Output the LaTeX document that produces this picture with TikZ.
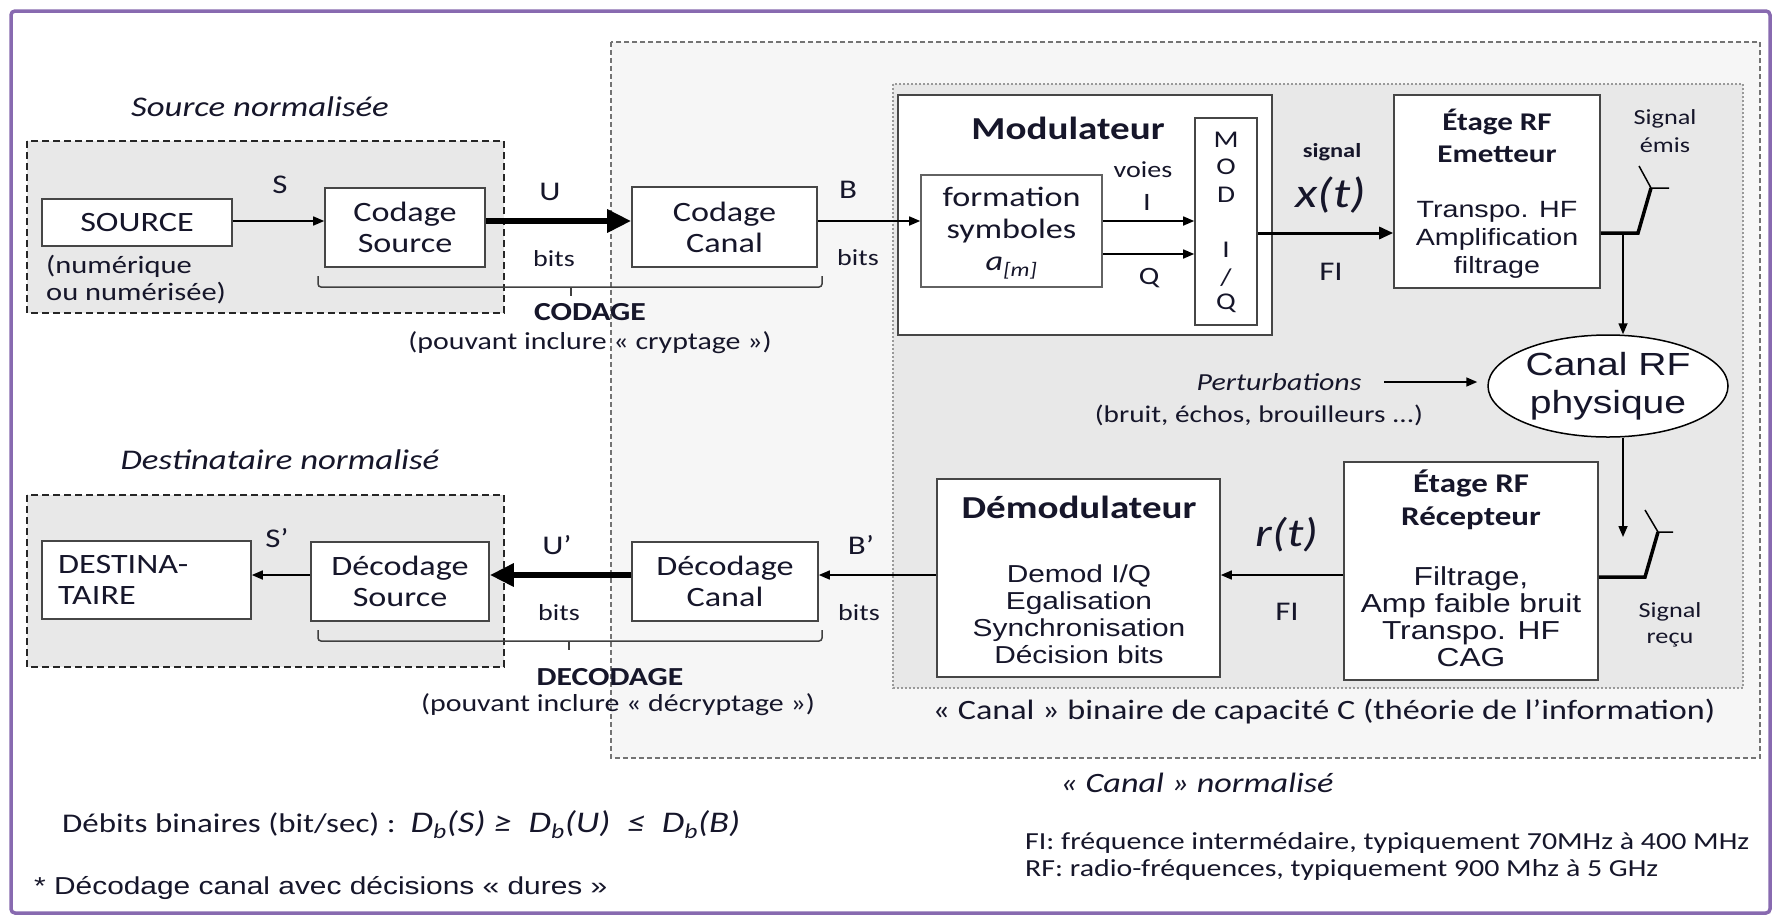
\documentclass[tikz,border=0pt]{standalone}
\usepackage{fontspec}
\setmainfont[FakeStretch=1.22]{Carlito}
\newfontfamily\arialf[FakeStretch=1.22]{Liberation Sans}
\usetikzlibrary{arrows.meta,shapes.geometric}
\definecolor{txt}{RGB}{22,22,42}
\definecolor{framec}{RGB}{136,106,176}
\definecolor{bigfill}{RGB}{246,246,246}
\definecolor{grayfill}{RGB}{232,232,232}
\definecolor{bord}{RGB}{70,70,70}
\newcommand\fsz[2]{\fontsize{#1}{#2}\selectfont}
\begin{document}
\begin{tikzpicture}[x=1pt,y=-1pt,
  every node/.style={text=txt, inner sep=0pt},
  box/.style={draw=bord, line width=1.6pt, fill=white, inner sep=0pt, align=center},
  lbl/.style={font=\fsz{27}{30}},
  bitsl/.style={font=\fsz{23}{26}},
  arr/.style={draw=black, line width=1.6pt, -{Triangle[length=11pt,width=9pt]}},
  midarr/.style={draw=black, line width=3pt, -{Triangle[length=14pt,width=12pt]}},
  fatarr/.style={draw=black, line width=6pt, -{Triangle[length=24pt,width=22pt]}},
  srcbox/.style={draw=black!85, line width=1.6pt, dash pattern=on 7pt off 4pt, fill=grayfill},
  bigbox/.style={draw=black!55, line width=1.4pt, dash pattern=on 5pt off 3pt, fill=bigfill},
  dotbox/.style={draw=black!40, line width=1.2pt, dash pattern=on 2pt off 2pt, fill=grayfill},
  brc/.style={draw=black!75, line width=1.5pt, rounded corners=3pt},
  antthick/.style={draw=black, line width=3.5pt},
  antthin/.style={draw=black, line width=1.5pt}
]
\path[use as bounding box] (0,0) rectangle (1779,916);
\fill[white] (0,0) rectangle (1779,916);
\draw[framec, line width=3.5pt, rounded corners=4pt] (11,11) rectangle (1770,913);

% group boxes
\draw[bigbox] (611,42) rectangle (1760,758);
\draw[dotbox] (893,84) rectangle (1743,688);
\draw[srcbox] (27,141) rectangle (504,313);
\draw[srcbox] (27,495) rectangle (504,667);

\coordinate (rowt) at (0,221);
\coordinate (rowb) at (0,575);

% ---------- top row ----------
\node[font=\itshape\fsz{28.5}{30}] (srcnorm) at (260,107) {Source normalisée};
\node[box, minimum width=190pt, minimum height=47pt, font=\fsz{28}{31}] (source) at (137,222.5) {SOURCE};
\node[anchor=west, align=left, font=\fsz{25}{27}] (num) at (46,280) {(numérique\\ou numérisée)};
\node[box, minimum width=160pt, minimum height=79pt, font=\fsz{28}{31}] (codsrc) at (405,227.5) {Codage\\Source};
\node[lbl] (S) at (280,185) {S};
\node[lbl] (U) at (550,192) {U};
\node[bitsl] (bits1) at (554,259) {bits};
\node[box, minimum width=185pt, minimum height=80pt, font=\fsz{28}{31}] (codcan) at (724.5,227) {Codage\\Canal};
\node[lbl] (B) at (848,190) {B};
\node[bitsl] (bits2) at (858,258) {bits};

\draw[arr] (source.east |- rowt) -- (codsrc.west |- rowt);
\draw[fatarr] (codsrc.east |- rowt) -- (codcan.west |- rowt);

% brace CODAGE
\draw[brc] (318,276) -- (318,287) -- (822,287) -- (822,276);
\draw[brc] (571,287) -- (571,296);
\node[font=\bfseries\fsz{26}{30}] (codage) at (590,312) {CODAGE};
\node[font=\fsz{24.5}{27}] (codp) at (590,343) {(pouvant inclure «~cryptage~»)};

% modulateur
\node[box, minimum width=374pt, minimum height=240pt] (modbox) at (1085,215) {};
\node[font=\bfseries\fsz{32}{34}] (modt) at (1068,128) {Modulateur};
\node[box, draw=bord!85, minimum width=181pt, minimum height=112pt] (form) at (1011.5,231) {};
\node[font=\fsz{28}{32}, align=center] (formt) at (1011.5,233) {formation\\symboles\\{\itshape a\textsubscript{[m]}}};
\node[font=\fsz{23}{26}] (voies) at (1143,170) {voies};
\node[font=\fsz{25}{28}] (Il) at (1147,202) {I};
\node[font=\fsz{25}{28}] (Ql) at (1149,278) {Q};
\node[box, minimum width=62pt, minimum height=207pt] (modiq) at (1226,221.5) {};
\node[font=\fsz{24}{26}] (m1) at (1226,140) {M};
\node[font=\fsz{24}{26}] (m2) at (1226,167) {O};
\node[font=\fsz{24}{26}] (m3) at (1226,195) {D};
\node[font=\fsz{24}{26}] (m4) at (1226,250) {I};
\node[font=\fsz{24}{26}] (m5) at (1226,278) {/};
\node[font=\fsz{24}{26}] (m6) at (1226,303) {Q};
\draw[arr] (codcan.east |- rowt) -- (form.west |- rowt);
\draw[arr] (form.east |- rowt) -- (modiq.west |- rowt);
\coordinate (rowq) at (0,254);
\draw[arr] (form.east |- rowq) -- (modiq.west |- rowq);

% x(t)
\node[font=\bfseries\fsz{20}{23}] (sig) at (1332,152) {signal};
\node[font=\itshape\fsz{42}{44}] (xt) at (1331,195) {x(t)};
\node[lbl] (fi1) at (1331,272) {FI};
\coordinate (rowx) at (0,233);

% Etage RF emetteur
\node[box, minimum width=206pt, minimum height=193pt] (etx) at (1497,191.5) {};
\node[font=\bfseries\fsz{25.5}{32}, align=center] (etxt) at (1497,136) {Étage RF\\Emetteur};
\node[font=\arialf\fsz{23.5}{28}, align=center] (etxb) at (1497,240) {Transpo. HF\\Amplification\\filtrage};
\draw[midarr] (modiq.east |- rowx) -- (etx.west |- rowx);

% antenna TX
\node[font=\fsz{21.5}{28}, align=center] (semis) at (1665,131) {Signal\\émis};
\coordinate (ta1) at (1638,233);
\coordinate (ta2) at (1651,188);
\coordinate (ta3) at (1639,166);
\coordinate (ta4) at (1669,188);
\coordinate (tj) at (1623,233);
\draw[antthick] (etx.east |- rowx) -- (ta1) -- (ta2);
\draw[antthin] (ta3) -- (ta2) -- (ta4);

% canal RF
\node[ellipse, draw=black, line width=1.5pt, fill=white, minimum width=240pt, minimum height=102pt, font=\arialf\fsz{32}{38}, align=center] (canal) at (1608,386) {Canal RF\\physique};
\draw[arr] (tj) -- (tj |- canal.north);
\node[font=\itshape\fsz{24.5}{30}] (pert) at (1279,382) {Perturbations};
\node[font=\fsz{24}{26}] (bruit) at (1259,415) {(bruit, échos, brouilleurs ...)};
\coordinate (pa) at (1384,382);
\draw[arr] (pa) -- ([xshift=-10pt]canal.west |- pa);

% Etage RF recepteur
\node[box, minimum width=254pt, minimum height=218pt] (rec) at (1471,571) {};
\node[font=\bfseries\fsz{27}{33}, align=center] (rect) at (1471,499.5) {Étage RF\\Récepteur};
\node[font=\arialf\fsz{26}{27}, align=center] (recb) at (1471,617) {Filtrage,\\Amp faible bruit\\Transpo. HF\\CAG};
\coordinate (rj) at (1623,537);
\draw[arr] (canal.south -| rj) -- (rj);
\coordinate (ra1) at (1645,577);
\coordinate (ra2) at (1658,532);
\coordinate (ra3) at (1645,510);
\coordinate (ra4) at (1673,532);
\draw[antthick] (rec.east |- ra1) -- (ra1) -- (ra2);
\draw[antthin] (ra3) -- (ra2) -- (ra4);
\node[font=\fsz{21.5}{26}, align=center] (srecu) at (1670,625) {Signal\\reçu};

% demodulateur
\node[font=\itshape\fsz{40}{42}] (rt) at (1287,535) {r(t)};
\node[lbl] (fi2) at (1287,612) {FI};
\node[box, minimum width=283pt, minimum height=198pt] (demod) at (1078.5,578) {};
\node[font=\bfseries\fsz{32}{34}] (demt) at (1079,507) {Démodulateur};
\node[font=\arialf\fsz{24.5}{27}, align=center] (demb) at (1079,614.5) {Demod I/Q\\Egalisation\\Synchronisation\\Décision bits};
\draw[arr] (rec.west |- rowb) -- (demod.east |- rowb);

% bottom row
\node[lbl] (Bp) at (861,545) {B’};
\node[bitsl] (bits3) at (859,613) {bits};
\node[box, minimum width=186pt, minimum height=79pt, font=\fsz{28}{31}] (deccan) at (725,581.5) {Décodage\\Canal};
\draw[arr] (demod.west |- rowb) -- (deccan.east |- rowb);
\node[lbl] (Up) at (557,545) {U’};
\node[bitsl] (bits4) at (559,613) {bits};
\node[box, minimum width=178pt, minimum height=79pt, font=\fsz{28}{31}] (decsrc) at (400,581.5) {Décodage\\Source};
\draw[fatarr] (deccan.west |- rowb) -- (decsrc.east |- rowb);
\node[lbl] (Sp) at (277,538) {S’};
\node[box, minimum width=209pt, minimum height=78pt] (dest) at (146.5,580) {};
\node[anchor=west, align=left, font=\fsz{28}{31}] (destt) at (58,579.5) {DESTINA-\\TAIRE};
\draw[arr] (decsrc.west |- rowb) -- (dest.east |- rowb);
\node[font=\itshape\fsz{28.5}{30}] (dstnorm) at (280,460) {Destinataire normalisé};

% brace DECODAGE
\draw[brc] (318,630) -- (318,641) -- (822,641) -- (822,630);
\draw[brc] (569,641) -- (569,650);
\node[font=\bfseries\fsz{26}{30}] (decodage) at (610,677) {DECODAGE};
\node[font=\fsz{24.5}{27}] (decp) at (618,705) {(pouvant inclure «~décryptage~»)};

% captions
\node[font=\fsz{28}{30}] (canbin) at (1324,712) {«~Canal~» binaire de capacité C (théorie de l’information)};
\node[font=\itshape\fsz{28}{30}] (cannorm) at (1197,783) {«~Canal~» normalisé};
\node[anchor=west, font=\fsz{27}{30}] (debits) at (62,825) {Débits binaires (bit/sec) :\ \ {\fsz{30}{30}\itshape D\textsubscript{b}(S)\ ≥\ \ D\textsubscript{b}(U)\ \ ≤\ \ D\textsubscript{b}(B)}};
\node[anchor=west, font=\arialf\fsz{24.5}{26}] (dur) at (34,888) {* Décodage canal avec décisions «~dures~»};
\node[anchor=west, font=\fsz{24.5}{27}, align=left] (fi) at (1025,856) {FI: fréquence intermédaire, typiquement 70MHz à 400 MHz\\RF: radio-fréquences, typiquement 900 Mhz à 5 GHz};
\end{tikzpicture}
\end{document}
